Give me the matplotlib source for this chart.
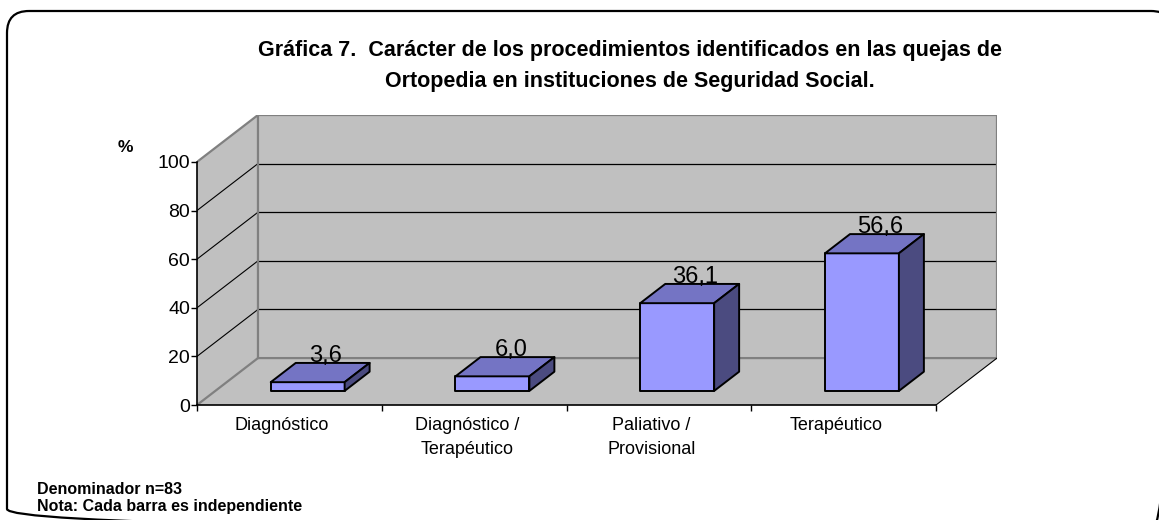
import numpy as np
import matplotlib
matplotlib.use("Agg")
import matplotlib.pyplot as plt
from matplotlib.patches import Polygon, FancyBboxPatch

# ==========================================
#              DATA
# ==========================================
categories = ["Diagnóstico", "Diagnóstico /\nTerapéutico", "Paliativo /\nProvisional", "Terapéutico"]
values = [3.6, 6.0, 36.1, 56.6]
value_labels = ["3,6", "6,0", "36,1", "56,6"]
y_ticks = [0, 20, 40, 60, 80, 100]

title = ("Gráfica 7.  Carácter de los procedimientos identificados en las quejas de\n"
         "Ortopedia en instituciones de Seguridad Social.")
notes = ["Denominador n=83", "Nota: Cada barra es independiente"]

# ==========================================
#              STYLE / GEOMETRY
# ==========================================
plt.rcParams['font.family'] = ['Liberation Sans', 'DejaVu Sans']
W, H = 1159, 520
DX, DY = 0.33, 19.3       # depth offset (category units, value units)
D0, D1 = 0.30, 0.71       # bar depth range (fraction of depth)
HALF = 0.20               # half bar width
WALL = "#C0C0C0"
EDGE_GREY = "#808080"
FRONT, TOP, SIDE = "#9999FF", "#7474C4", "#4B4B80"

fig = plt.figure(figsize=(W / 100, H / 100), dpi=100)

# background layer for frame, title, notes
bg = fig.add_axes([0, 0, 1, 1])
bg.set_xlim(0, W)
bg.set_ylim(H, 0)
bg.axis("off")
bg.add_patch(FancyBboxPatch((7, 11), 1166, 520, boxstyle="round,pad=0,rounding_size=22",
                            fill=False, ec="black", lw=1.6, clip_on=False))
bg.text(630, 66, title, ha="center", va="center", fontsize=15.5, fontweight="bold",
        linespacing=1.6)
bg.text(125, 148, "%", ha="center", va="center", fontsize=12.5, fontweight="bold")
for k, line in enumerate(notes):
    bg.text(37, 489 + 18 * k, line, ha="left", va="center", fontsize=11.5, fontweight="bold")

# main chart axes: front plane x 0..4, y 0..100, back plane shifted by (DX, DY)
n = len(categories)
ax = fig.add_axes([197 / W, (H - 405) / H, 800 / W, 290 / H])
ax.set_xlim(0, n + DX)
ax.set_ylim(0, 100 + DY)
ax.patch.set_visible(False)

# walls and floor
ax.add_patch(Polygon([(0, 0), (DX, DY), (DX, 100 + DY), (0, 100)], closed=True,
                     fc=WALL, ec="none", zorder=0))
ax.add_patch(Polygon([(0, 0), (n, 0), (n + DX, DY), (DX, DY)], closed=True,
                     fc=WALL, ec="none", zorder=0))
ax.add_patch(Polygon([(DX, DY), (n + DX, DY), (n + DX, 100 + DY), (DX, 100 + DY)], closed=True,
                     fc=WALL, ec="none", zorder=0))

# gridlines on back wall and side wall
for v in y_ticks[1:-1]:
    ax.plot([DX, n + DX], [v + DY, v + DY], color="black", lw=0.9, zorder=1)
    ax.plot([0, DX], [v, v + DY], color="black", lw=0.8, zorder=1)
# wall outlines
ax.plot([0, DX, DX, n + DX, n + DX, DX], [100, 100 + DY, DY, DY, 100 + DY, 100 + DY],
        color=EDGE_GREY, lw=1.6, zorder=1)
ax.plot([0, DX], [0, DY], color=EDGE_GREY, lw=1.6, zorder=1)
ax.plot([n, n + DX], [0, DY], color="black", lw=0.8, zorder=1)

# bars
for i, (v, lab) in enumerate(zip(values, value_labels)):
    cx = i + 0.5
    x0, x1 = cx - HALF + D0 * DX, cx + HALF + D0 * DX
    yb, yt = D0 * DY, D0 * DY + v
    ddx, ddy = (D1 - D0) * DX, (D1 - D0) * DY
    kw = dict(closed=True, ec="black", lw=1.4, joinstyle="round", zorder=3)
    ax.add_patch(Polygon([(x0, yb), (x1, yb), (x1, yt), (x0, yt)], fc=FRONT, **kw))
    ax.add_patch(Polygon([(x0, yt), (x1, yt), (x1 + ddx, yt + ddy), (x0 + ddx, yt + ddy)], fc=TOP, **kw))
    ax.add_patch(Polygon([(x1, yb), (x1 + ddx, yb + ddy), (x1 + ddx, yt + ddy), (x1, yt)], fc=SIDE, **kw))
    ax.text(cx + 0.6 * DX, yt + ddy + 0.3, lab, ha="center", va="baseline", fontsize=17, zorder=4)

# axes spines and ticks
for s in ["top", "right"]:
    ax.spines[s].set_visible(False)
ax.spines["left"].set_bounds(0, 100)
ax.spines["bottom"].set_bounds(0, n)
ax.spines["left"].set_linewidth(1.2)
ax.spines["bottom"].set_linewidth(1.2)
ax.set_yticks(y_ticks)
ax.set_yticklabels([str(t) for t in y_ticks])
ax.tick_params(axis="y", direction="out", length=4, width=1, labelsize=14, pad=1)
ax.set_xticks(np.arange(n + 1))
ax.set_xticklabels([])
ax.tick_params(axis="x", which="major", direction="out", length=4, width=1)
ax.set_xticks(np.arange(n) + 0.5 - 0.04, minor=True)
ax.set_xticklabels(categories, minor=True)
ax.tick_params(axis="x", which="minor", length=0, labelsize=13, pad=9)
for t in ax.get_xticklabels(minor=True):
    t.set_linespacing(1.5)

fig.savefig("out.png", dpi=100)
